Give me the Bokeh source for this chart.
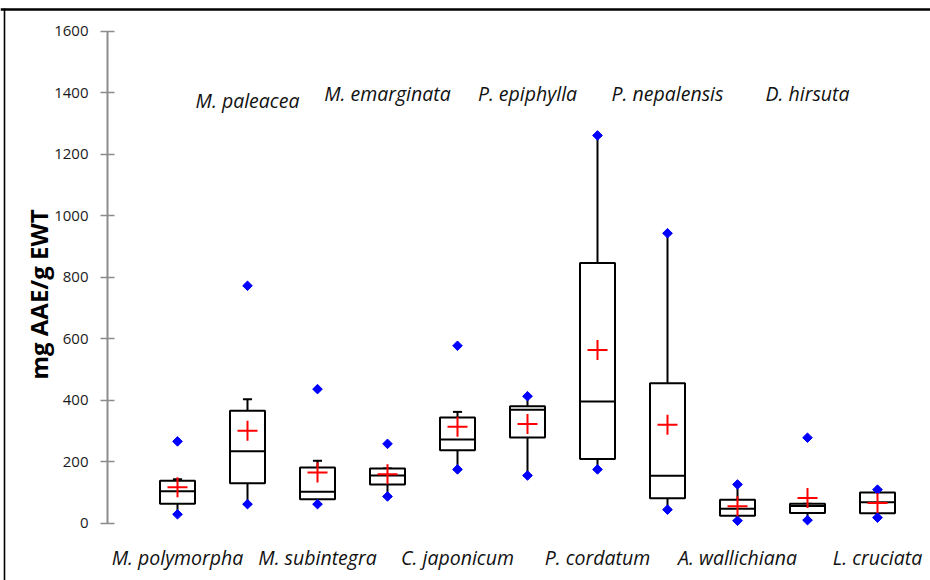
import numpy as np
from bokeh.plotting import figure
from bokeh.models import Range1d, LinearAxis, FixedTicker, ColumnDataSource
from bokeh.core.properties import value
from bokeh.embed import file_html
from bokeh.resources import INLINE

# ---------------- data ----------------
species = ["M. polymorpha", "M. paleacea", "M. subintegra", "M. emarginata",
           "C. japonicum", "P. epiphylla", "P. cordatum", "P. nepalensis",
           "A. wallichiana", "D. hirsuta", "L. cruciata"]
q1       = [63, 130, 78, 126, 237, 279, 209, 81, 24, 33, 32]
median   = [104, 234, 102, 155, 272, 369, 396, 154, 47, 56, 68]
q3       = [138, 366, 181, 178, 344, 380, 846, 455, 76, 63, 100]
mean     = [117, 301, 165, 159, 314, 323, 563, 320, 55, 82, 66]
whisk_lo = [29, 62, 62, 87, 175, 155, 175, 44, 8, 10, 18]
whisk_hi = [143, 403, 203, 178, 362, 413, 1261, 943, 126, 63, 109]
vmin     = [29, 62, 62, 87, 175, 155, 175, 44, 8, 10, 18]
vmax     = [266, 772, 436, 258, 577, 413, 1261, 943, 126, 278, 109]
yticks   = [0, 200, 400, 600, 800, 1000, 1200, 1400, 1600]
ytitle   = "mg AAE/g EWT"

# ---------------- geometry ----------------
W, H = 930, 580
PX_X0 = 107.0        # pixel of x = 0 (the y axis)
PX_CAT = 70.0        # pixels per category
PX_Y0 = 522.7        # pixel of y = 0
PX_UNIT = 0.3075     # pixels per y unit

def xval(px):
    return (px - PX_X0) / PX_CAT

def yval(py):
    return (PX_Y0 - py) / PX_UNIT

x_range = Range1d(xval(0), xval(W))
y_range = Range1d(yval(H), yval(0))

p = figure(width=W, height=H, output_backend="svg", toolbar_location=None,
           x_axis_location=None, y_axis_location=None,
           x_range=x_range, y_range=y_range, min_border=0,
           background_fill_color="white", border_fill_color="white")
p.min_border_left = p.min_border_right = p.min_border_top = p.min_border_bottom = 0
p.outline_line_color = None
p.grid.visible = False

FONT = "Open Sans"

yaxis = LinearAxis(fixed_location=0, bounds=(0, 1600),
                   ticker=FixedTicker(ticks=yticks, minor_ticks=[]))
yaxis.axis_line_color = "#8c8c8c"
yaxis.axis_line_width = 2
yaxis.major_tick_line_color = "#8c8c8c"
yaxis.major_tick_line_width = 1.5
yaxis.major_tick_in = 7
yaxis.major_tick_out = 7
yaxis.minor_tick_line_color = None
yaxis.major_label_text_font = FONT
yaxis.major_label_text_font_size = "15px"
yaxis.major_label_text_color = "#1a1a1a"
yaxis.major_label_standoff = 12
p.add_layout(yaxis, "left")

# y-axis title (rotated text)
p.text(x=[xval(38)], y=[yval(294)], text=[ytitle], angle=np.pi / 2,
       text_font=value(FONT), text_font_style="bold", text_font_size="24px",
       text_color="#000000", text_align="center", text_baseline="middle")

# chart border (top and left edges are inside the picture)
p.segment(x0=[xval(0)], y0=[yval(9)], x1=[xval(W + 10)], y1=[yval(9)],
          line_color="black", line_width=2.5)
p.quad(left=[xval(3.2)], right=[xval(4.8)], top=[yval(8)], bottom=[yval(H)],
       fill_color="black", line_color=None)

n = len(species)
xs = np.arange(1, n + 1, dtype=float)
half = 0.25
cap = 0.065

src = ColumnDataSource(dict(x=xs, q1=q1, med=median, q3=q3, mean=mean,
                            lo=whisk_lo, hi=whisk_hi, vmin=vmin, vmax=vmax,
                            left=xs - half, right=xs + half,
                            cl=xs - cap, cr=xs + cap))

# whiskers
p.segment(x0="x", y0="q3", x1="x", y1="hi", source=src, line_color="black", line_width=2)
p.segment(x0="x", y0="q1", x1="x", y1="lo", source=src, line_color="black", line_width=2)
p.segment(x0="cl", y0="hi", x1="cr", y1="hi", source=src, line_color="black", line_width=2)
p.segment(x0="cl", y0="lo", x1="cr", y1="lo", source=src, line_color="black", line_width=2)
# boxes
p.quad(left="left", right="right", bottom="q1", top="q3", source=src,
       fill_color="white", line_color="black", line_width=2)
p.segment(x0="left", y0="med", x1="right", y1="med", source=src, line_color="black", line_width=2)
# min / max diamonds
p.scatter(x="x", y="vmin", source=src, marker="square", angle=np.pi / 4, size=6.8,
          fill_color="#0000ff", line_color="#0000ff", line_width=1)
p.scatter(x="x", y="vmax", source=src, marker="square", angle=np.pi / 4, size=6.8,
          fill_color="#0000ff", line_color="#0000ff", line_width=1)
# mean
p.scatter(x="x", y="mean", source=src, marker="cross", size=20,
          line_color="#ff0000", line_width=2)

# species labels: odd ones below, even ones above
lab_bottom = [i for i in range(n) if i % 2 == 0]
lab_top = [i for i in range(n) if i % 2 == 1]
p.text(x=[xs[i] for i in lab_bottom], y=[yval(557)] * len(lab_bottom),
       text=[species[i] for i in lab_bottom],
       text_font=value(FONT), text_font_style="italic", text_font_size="19.5px",
       text_color="#111111", text_align="center", text_baseline="middle")
top_y = [yval(100) if i == 1 else yval(93) for i in lab_top]
p.text(x=[xs[i] for i in lab_top], y=top_y,
       text=[species[i] for i in lab_top],
       text_font=value(FONT), text_font_style="italic", text_font_size="19.5px",
       text_color="#111111", text_align="center", text_baseline="middle")

open("out.html", "w").write(file_html(p, INLINE))
